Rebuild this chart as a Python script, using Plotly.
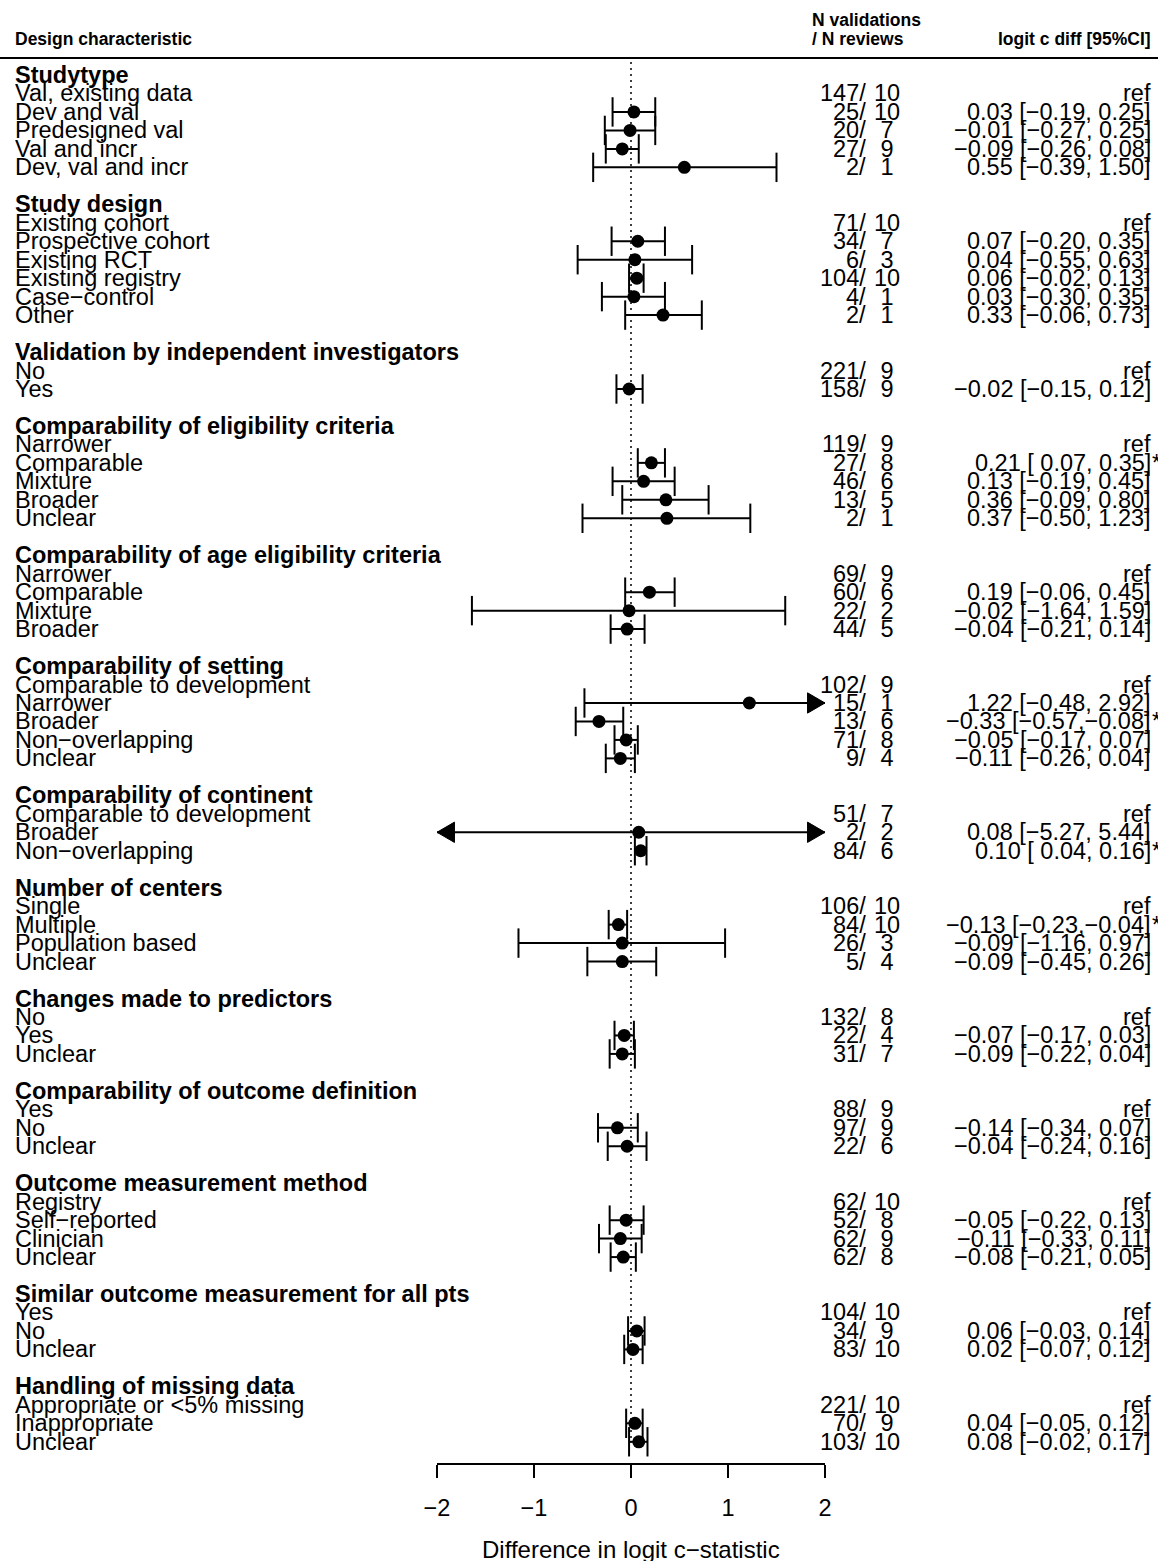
import plotly.graph_objects as go

# ---- data -------------------------------------------------------------
groups = [
    "Studytype",
    "Study design",
    "Validation by independent investigators",
    "Comparability of eligibility criteria",
    "Comparability of age eligibility criteria",
    "Comparability of setting",
    "Comparability of continent",
    "Number of centers",
    "Changes made to predictors",
    "Comparability of outcome definition",
    "Outcome measurement method",
    "Similar outcome measurement for all pts",
    "Handling of missing data",
]
levels = [
    ["Val, existing data", "Dev and val", "Predesigned val", "Val and incr", "Dev, val and incr"],
    ["Existing cohort", "Prospective cohort", "Existing RCT", "Existing registry", "Case−control", "Other"],
    ["No", "Yes"],
    ["Narrower", "Comparable", "Mixture", "Broader", "Unclear"],
    ["Narrower", "Comparable", "Mixture", "Broader"],
    ["Comparable to development", "Narrower", "Broader", "Non−overlapping", "Unclear"],
    ["Comparable to development", "Broader", "Non−overlapping"],
    ["Single", "Multiple", "Population based", "Unclear"],
    ["No", "Yes", "Unclear"],
    ["Yes", "No", "Unclear"],
    ["Registry", "Self−reported", "Clinician", "Unclear"],
    ["Yes", "No", "Unclear"],
    ["Appropriate or <5% missing", "Inappropriate", "Unclear"],
]
n_validations = [
    [147, 25, 20, 27, 2],
    [71, 34, 6, 104, 4, 2],
    [221, 158],
    [119, 27, 46, 13, 2],
    [69, 60, 22, 44],
    [102, 15, 13, 71, 9],
    [51, 2, 84],
    [106, 84, 26, 5],
    [132, 22, 31],
    [88, 97, 22],
    [62, 52, 62, 62],
    [104, 34, 83],
    [221, 70, 103],
]
n_reviews = [
    [10, 10, 7, 9, 1],
    [10, 7, 3, 10, 1, 1],
    [9, 9],
    [9, 8, 6, 5, 1],
    [9, 6, 2, 5],
    [9, 1, 6, 8, 4],
    [7, 2, 6],
    [10, 10, 3, 4],
    [8, 4, 7],
    [9, 9, 6],
    [10, 8, 9, 8],
    [10, 9, 10],
    [10, 9, 10],
]
# None = reference level of the characteristic
estimate = [
    [None, 0.03, -0.01, -0.09, 0.55],
    [None, 0.07, 0.04, 0.06, 0.03, 0.33],
    [None, -0.02],
    [None, 0.21, 0.13, 0.36, 0.37],
    [None, 0.19, -0.02, -0.04],
    [None, 1.22, -0.33, -0.05, -0.11],
    [None, 0.08, 0.10],
    [None, -0.13, -0.09, -0.09],
    [None, -0.07, -0.09],
    [None, -0.14, -0.04],
    [None, -0.05, -0.11, -0.08],
    [None, 0.06, 0.02],
    [None, 0.04, 0.08],
]
ci_lower = [
    [None, -0.19, -0.27, -0.26, -0.39],
    [None, -0.20, -0.55, -0.02, -0.30, -0.06],
    [None, -0.15],
    [None, 0.07, -0.19, -0.09, -0.50],
    [None, -0.06, -1.64, -0.21],
    [None, -0.48, -0.57, -0.17, -0.26],
    [None, -5.27, 0.04],
    [None, -0.23, -1.16, -0.45],
    [None, -0.17, -0.22],
    [None, -0.34, -0.24],
    [None, -0.22, -0.33, -0.21],
    [None, -0.03, -0.07],
    [None, -0.05, -0.02],
]
ci_upper = [
    [None, 0.25, 0.25, 0.08, 1.50],
    [None, 0.35, 0.63, 0.13, 0.35, 0.73],
    [None, 0.12],
    [None, 0.35, 0.45, 0.80, 1.23],
    [None, 0.45, 1.59, 0.14],
    [None, 2.92, -0.08, 0.07, 0.04],
    [None, 5.44, 0.16],
    [None, -0.04, 0.97, 0.26],
    [None, 0.03, 0.04],
    [None, 0.07, 0.16],
    [None, 0.13, 0.11, 0.05],
    [None, 0.14, 0.12],
    [None, 0.12, 0.17],
]
x_ticks = [-2, -1, 0, 1, 2]
x_limits = (-2, 2)

# ---- page geometry (pixels) -------------------------------------------
FIG_W, FIG_H = 1158, 1561
L, R, T, B = 437, 333, 60, 98
ROW0_PX, ROW_PX = 75.0, 18.47
PLOT_W = FIG_W - L - R
PLOT_H = FIG_H - T - B
FONT = "Liberation Sans, Arial, Helvetica, sans-serif"
BODY = 23.5
HEAD = 17.5


def px_x(px):
    return (px - L) / PLOT_W


def px_y(py):
    return (FIG_H - B - py) / PLOT_H


def fmt(v, width=0):
    s = f"{v:{width}.2f}" if width else f"{v:.2f}"
    return s.replace("-", "−")


annotations = []


def add_text(text, px, row=None, py=None, anchor="left", size=BODY, bold=False):
    if bold:
        text = f"<b>{text}</b>"
    kw = dict(yref="y", y=row) if row is not None else dict(yref="paper", y=px_y(py))
    annotations.append(dict(
        text=text, xref="paper", x=px_x(px), xanchor=anchor, yanchor="middle",
        showarrow=False, align=anchor, borderpad=0,
        font=dict(family=FONT, size=size, color="black"), **kw))


# ---- table rows and interval marks ---------------------------------------
pt_x, pt_y = [], []
ci_x, ci_y = [], []
cap_x, cap_y = [], []
tri_x, tri_y = [], []
ARROW_W = 0.18     # arrowhead length in axis units
ARROW_H = 0.55     # arrowhead half-height in row units

row = 0
for g, name in enumerate(groups):
    add_text(name, 14, row=row, bold=True)
    for i, lab in enumerate(levels[g]):
        r = row + 1 + i
        add_text(lab, 14, row=r)
        add_text(f"{n_validations[g][i]}/", 867, row=r, anchor="right")
        add_text(f"{n_reviews[g][i]:2d}".replace(" ", "&nbsp;"), 873, row=r, anchor="left")
        est, lo, hi = estimate[g][i], ci_lower[g][i], ci_upper[g][i]
        if est is None:
            add_text("ref", 1152, row=r, anchor="right")
            continue
        add_text(f"{fmt(est)} [{fmt(lo, 5)},{fmt(hi, 5)}]".replace("[ ", "[&nbsp;").replace(", ", ",&nbsp;"),
                 1152, row=r, anchor="right")
        if lo > 0 or hi < 0:
            add_text("*", 1151, row=r, anchor="left")
        pt_x.append(est)
        pt_y.append(r)
        lo_c, hi_c = max(lo, x_limits[0]), min(hi, x_limits[1])
        ci_x += [lo_c, hi_c, None]
        ci_y += [r, r, None]
        for v, vc, sgn in ((lo, lo_c, 1), (hi, hi_c, -1)):
            if v == vc:
                cap_x.append(v)
                cap_y.append(r)
            else:
                tri_x += [vc, vc + sgn * ARROW_W, vc + sgn * ARROW_W, vc, None]
                tri_y += [r, r - ARROW_H, r + ARROW_H, r, None]
    row += len(levels[g]) + 2
last_row = row - 2

fig = go.Figure()
fig.add_trace(go.Scatter(x=ci_x, y=ci_y, mode="lines", cliponaxis=False,
                         line=dict(color="black", width=2), hoverinfo="skip"))
fig.add_trace(go.Scatter(x=cap_x, y=cap_y, mode="markers", cliponaxis=False,
                         marker=dict(symbol="line-ns", size=21, color="black",
                                     line=dict(color="black", width=2)),
                         hoverinfo="skip"))
fig.add_trace(go.Scatter(x=tri_x, y=tri_y, mode="lines", fill="toself",
                         fillcolor="black", line=dict(color="black", width=1),
                         cliponaxis=False, hoverinfo="skip"))
fig.add_trace(go.Scatter(x=pt_x, y=pt_y, mode="markers", cliponaxis=False,
                         marker=dict(symbol="circle", size=13, color="black"),
                         hoverinfo="skip"))

# reference line at zero
fig.add_shape(type="line", xref="x", yref="y", x0=0, x1=0,
              y0=-0.7, y1=last_row + 0.05, layer="below",
              line=dict(color="black", width=1.5, dash="2px,4px"))
# rule under the column headers
fig.add_shape(type="line", xref="paper", yref="paper",
              x0=px_x(0), x1=px_x(FIG_W), y0=px_y(58), y1=px_y(58),
              line=dict(color="black", width=2))

# column headers
add_text("Design characteristic", 14, py=39, size=HEAD, bold=True)
add_text("N validations", 811, py=20, size=HEAD, bold=True)
add_text("/ N reviews", 811, py=39, size=HEAD, bold=True)
add_text("logit c diff [95%CI]", 1152, py=39, anchor="right", size=HEAD, bold=True)
# axis title
annotations.append(dict(text="Difference in logit c−statistic", xref="x", x=0,
                        yref="paper", y=px_y(1549), xanchor="center", yanchor="middle",
                        showarrow=False, font=dict(family=FONT, size=24, color="black")))

ymin = (T - ROW0_PX) / ROW_PX
ymax = (FIG_H - B - ROW0_PX) / ROW_PX

fig.update_layout(
    width=FIG_W, height=FIG_H,
    margin=dict(l=L, r=R, t=T, b=B, pad=0),
    paper_bgcolor="white", plot_bgcolor="white",
    showlegend=False,
    annotations=annotations,
    xaxis=dict(range=list(x_limits), tickvals=x_ticks, showgrid=False, zeroline=False,
               showline=True, linecolor="black", linewidth=1.5,
               ticks="outside", ticklen=13, tickwidth=1.5, tickcolor="black",
               ticklabelstandoff=10,
               tickfont=dict(family=FONT, size=BODY, color="black"), fixedrange=True),
    yaxis=dict(range=[ymax, ymin], visible=False, fixedrange=True),
)

fig.write_html("out.html")
